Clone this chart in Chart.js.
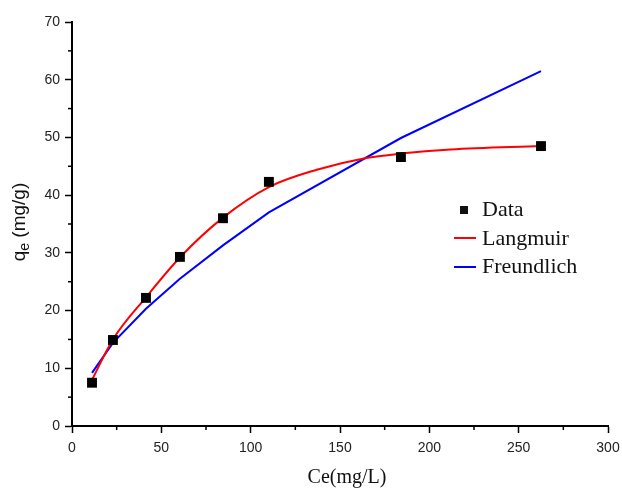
<!DOCTYPE html>
<html>
<head>
<meta charset="utf-8">
<script src="https://cdn.jsdelivr.net/npm/chart.js@4.4.1/dist/chart.umd.min.js"></script>
<style>
  html, body { margin: 0; padding: 0; background: #fff; }
  #wrap { width: 622px; height: 489px; position: relative; }
</style>
</head>
<body>
<div id="wrap"><canvas id="isoChart" width="622" height="489"></canvas></div>
<script>
// 실측 데이터 (Ce, qe)
const ceData = [11.2, 22.9, 41.4, 60.4, 84.5, 110.2, 184.1, 262.5];
const qeData = [7.5, 14.9, 22.2, 29.3, 36.0, 42.3, 46.6, 48.5];

// Langmuir 곡선
const langCe = [11.2, 22.9, 41.4, 60.4, 84.5, 110.2, 137, 164, 184.1, 212, 262.5];
const langQe = [8.0, 15.0, 22.3, 29.2, 36.1, 41.4, 44.4, 46.4, 47.2, 47.9, 48.5];

// Freundlich 곡선
const freCe = [11.2, 22.9, 41.4, 60.4, 84.5, 110.2, 184.1, 262.5];
const freQe = [9.2, 14.4, 20.3, 25.5, 31.3, 37.0, 49.9, 61.5];

const xTicks = [0, 50, 100, 150, 200, 250, 300];
const yTicks = [0, 10, 20, 30, 40, 50, 60, 70];
const legendLabels = ['Data', 'Langmuir', 'Freundlich'];
const xTitle = 'Ce(mg/L)';

const toXY = (xs, ys) => xs.map((x, i) => ({ x: x, y: ys[i] }));

// 보조 눈금 + 축 제목 + 범례
const extras = {
    id: 'extras',
    afterDraw(chart) {
        const ctx = chart.ctx;
        const xs = chart.scales.x, ys = chart.scales.y;
        const area = chart.chartArea;
        ctx.save();
        ctx.strokeStyle = '#000';
        ctx.lineWidth = 1.5;
        for (let i = 0; i < yTicks.length - 1; i++) {
            const py = ys.getPixelForValue((yTicks[i] + yTicks[i + 1]) / 2);
            ctx.beginPath(); ctx.moveTo(area.left - 4, py); ctx.lineTo(area.left, py); ctx.stroke();
        }
        for (let i = 0; i < xTicks.length - 1; i++) {
            const px = xs.getPixelForValue((xTicks[i] + xTicks[i + 1]) / 2);
            ctx.beginPath(); ctx.moveTo(px, area.bottom); ctx.lineTo(px, area.bottom + 4); ctx.stroke();
        }

        // x축 제목
        ctx.fillStyle = '#111';
        ctx.font = '20px "Liberation Serif", "Times New Roman", serif';
        ctx.textAlign = 'center';
        ctx.textBaseline = 'alphabetic';
        ctx.fillText(xTitle, 347, 483);
        ctx.textAlign = 'left';

        // y축 제목 q_e (mg/g)
        ctx.translate(19, 222);
        ctx.rotate(-Math.PI / 2);
        const big = '19px "Liberation Sans", Arial, sans-serif';
        const small = '14px "Liberation Sans", Arial, sans-serif';
        ctx.font = big; const wq = ctx.measureText('q').width;
        const wr = ctx.measureText(' (mg/g)').width;
        ctx.font = small; const we = ctx.measureText('e').width;
        let x0 = -(wq + we + wr) / 2;
        ctx.font = big; ctx.fillText('q', x0, 6);
        ctx.font = small; ctx.fillText('e', x0 + wq, 10);
        ctx.font = big; ctx.fillText(' (mg/g)', x0 + wq + we, 6);
        ctx.restore();

        // 범례
        ctx.save();
        ctx.font = '22px "Liberation Serif", "Times New Roman", serif';
        ctx.fillStyle = '#111';
        ctx.textBaseline = 'alphabetic';
        const lx = 482, rows = [216, 245, 273];
        ctx.fillRect(460, 206, 8, 8);
        ctx.lineWidth = 2;
        ctx.strokeStyle = '#ff0000';
        ctx.beginPath(); ctx.moveTo(454, 238); ctx.lineTo(476, 238); ctx.stroke();
        ctx.strokeStyle = '#0000ff';
        ctx.beginPath(); ctx.moveTo(454, 267); ctx.lineTo(476, 267); ctx.stroke();
        legendLabels.forEach((t, i) => ctx.fillText(t, lx, rows[i]));
        ctx.restore();
    }
};

const ctx = document.getElementById('isoChart').getContext('2d');
new Chart(ctx, {
    type: 'scatter',
    data: {
        datasets: [
            {
                label: legendLabels[0],
                data: toXY(ceData, qeData),
                pointStyle: 'rect',
                pointRadius: 7,
                pointBackgroundColor: '#000',
                pointBorderWidth: 0,
                showLine: false
            },
            {
                label: legendLabels[1],
                data: toXY(langCe, langQe),
                showLine: true,
                borderColor: '#ff0000',
                borderWidth: 2,
                pointRadius: 0,
                cubicInterpolationMode: 'monotone'
            },
            {
                label: legendLabels[2],
                data: toXY(freCe, freQe),
                showLine: true,
                borderColor: '#0000ff',
                borderWidth: 2,
                pointRadius: 0,
                tension: 0
            }
        ]
    },
    options: {
        responsive: false,
        animation: false,
        layout: { padding: { top: 22, right: 14, bottom: 0, left: 0 } },
        plugins: {
            legend: { display: false },
            tooltip: { enabled: false }
        },
        scales: {
            x: {
                type: 'linear',
                min: 0, max: 300,
                afterBuildTicks: s => { s.ticks = xTicks.map(v => ({ value: v })); },
                afterFit: s => { s.height = 63; s.paddingLeft = 0; s.paddingRight = 0; },
                ticks: {
                    color: '#222',
                    font: { family: '"Liberation Sans", Arial, sans-serif', size: 14 },
                    padding: 7,
                    maxRotation: 0
                },
                grid: { drawOnChartArea: false, tickLength: 7, tickColor: '#000', tickWidth: 1.5 },
                border: { color: '#000', width: 2 }
            },
            y: {
                min: 0, max: 70,
                afterBuildTicks: s => { s.ticks = yTicks.map(v => ({ value: v })); },
                afterFit: s => { s.width = 72; s.paddingTop = 0; s.paddingBottom = 0; },
                ticks: {
                    color: '#222',
                    font: { family: '"Liberation Sans", Arial, sans-serif', size: 14 },
                    padding: 5
                },
                grid: { drawOnChartArea: false, tickLength: 7, tickColor: '#000', tickWidth: 1.5 },
                border: { color: '#000', width: 2 }
            }
        }
    },
    plugins: [extras]
});
</script>
</body>
</html>
